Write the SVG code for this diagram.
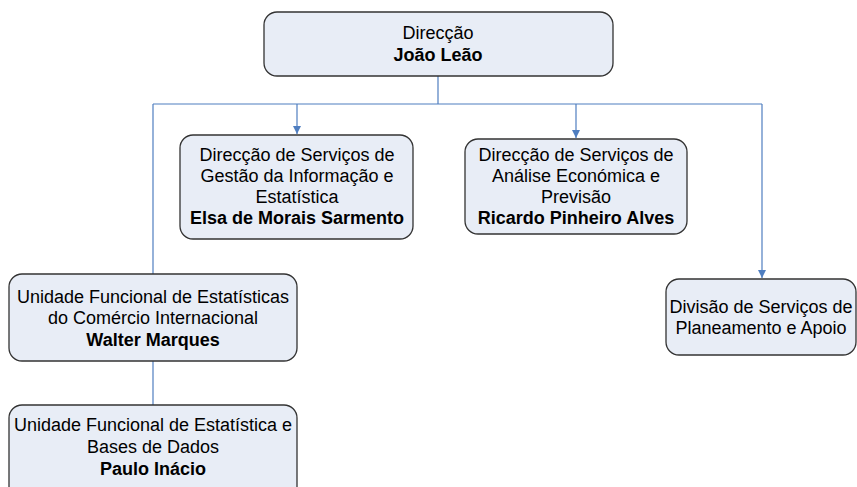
<svg xmlns="http://www.w3.org/2000/svg" width="857" height="487" viewBox="0 0 857 487">
<style>
.box{fill:#E8EDF6;stroke:#333;stroke-width:1.3}
.t{font-family:"Liberation Sans",Arial,sans-serif;font-size:18px;fill:#000;text-anchor:middle}
.b{font-weight:bold}
.c{fill:none;stroke:#4F7EC0;stroke-width:1.2}
</style>
<defs>
<marker id="ar" viewBox="0 0 10 10" refX="10" refY="5" markerWidth="8" markerHeight="8" markerUnits="userSpaceOnUse" orient="auto">
<path d="M0,0 L10,5 L0,10 z" fill="#4F7EC0"/>
</marker>
</defs>
<g id="connectors">
<path class="c" d="M438,76 V104"/>
<path class="c" d="M153,104 H762"/>
<path class="c" d="M297,104 V134" marker-end="url(#ar)"/>
<path class="c" d="M576,104 V138" marker-end="url(#ar)"/>
<path class="c" d="M762,104 V278" marker-end="url(#ar)"/>
<path class="c" d="M153,104 V274"/>
<path class="c" d="M153,361 V405"/>
</g>
<g id="n1">
<rect class="box" x="264" y="12" width="349" height="64" rx="13"/>
<text class="t" x="438" y="39">Direcção</text>
<text class="t b" x="438" y="61">João Leão</text>
</g>
<g id="n2">
<rect class="box" x="180" y="135" width="233" height="104" rx="13"/>
<text class="t" x="297" y="161">Direcção de Serviços de</text>
<text class="t" x="297" y="182">Gestão da Informação e</text>
<text class="t" x="297" y="203">Estatística</text>
<text class="t b" x="297" y="224">Elsa de Morais Sarmento</text>
</g>
<g id="n3">
<rect class="box" x="465" y="139" width="222" height="95" rx="13"/>
<text class="t" x="576" y="161">Direcção de Serviços de</text>
<text class="t" x="576" y="182">Análise Económica e</text>
<text class="t" x="576" y="203">Previsão</text>
<text class="t b" x="576" y="224">Ricardo Pinheiro Alves</text>
</g>
<g id="n4">
<rect class="box" x="666" y="279" width="190" height="76" rx="13"/>
<text class="t" x="761" y="313">Divisão de Serviços de</text>
<text class="t" x="761" y="334">Planeamento e Apoio</text>
</g>
<g id="n5">
<rect class="box" x="9" y="274" width="288" height="87" rx="13"/>
<text class="t" x="153" y="303">Unidade Funcional de Estatísticas</text>
<text class="t" x="153" y="324">do Comércio Internacional</text>
<text class="t b" x="153" y="346">Walter Marques</text>
</g>
<g id="n6">
<rect class="box" x="9" y="405" width="288" height="95" rx="13"/>
<text class="t" x="153" y="431">Unidade Funcional de Estatística e</text>
<text class="t" x="153" y="453">Bases de Dados</text>
<text class="t b" x="153" y="475">Paulo Inácio</text>
</g>
</svg>
